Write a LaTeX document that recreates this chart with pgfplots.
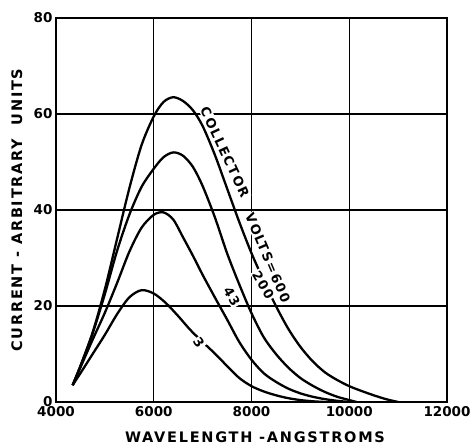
\documentclass[border=0pt]{standalone}
\usepackage{fontspec}
\setmainfont{DejaVu Sans}
\newfontfamily\tk{DejaVu Sans Bold}
\newfontfamily\lab{DejaVu Sans Bold}[LetterSpace=12]
\usepackage{pgfplots}
\pgfplotsset{compat=1.18}
\pgfplotsset{curve/.style={black, line width=2.3pt, smooth, tension=0.5, mark=none}}
\begin{document}
\begin{tikzpicture}
\path[use as bounding box] (-56pt,-45pt) rectangle (416pt,402pt);
\begin{axis}[
  scale only axis, width=391pt, height=384pt,
  at={(0,0)}, anchor=south west,
  xmin=4000, xmax=12000, ymin=0, ymax=80,
  xtick={4000,6000,8000,10000,12000}, ytick={0,20,40,60,80},
  grid=major, major grid style={black, line width=1.2pt},
  axis line style={line width=1.6pt},
  major tick length=0pt,
  tick label style={font=\fontsize{13.5}{14}\tk},
  xticklabel style={yshift=-1pt},
  /pgf/number format/assume math mode=true,
  /pgf/number format/1000 sep={},
  scaled x ticks=false,
  xlabel={WAVELENGTH -ANGSTROMS},
  ylabel={CURRENT - ARBITRARY\ \ UNITS},
  label style={font=\fontsize{14.5}{15}\lab},
  xlabel style={at={(axis description cs:0.509,-0.091)}, anchor=center},
  ylabel style={at={(axis description cs:-0.1,0.5)}, anchor=center},
]
% 600 V
\addplot[curve] coordinates {(4340,3.5) (4500,7.5) (4750,14.5) (5000,23.5) (5250,34) (5500,44.5) (5750,53.5) (6000,59.5) (6200,62.5) (6400,63.5) (6600,62.7) (6800,60.8) (7000,57.5) (7250,51.5) (7500,44.5) (7750,37.5) (8000,31) (8250,25.3) (8500,20) (8750,15.3) (9000,11.5) (9250,8.5) (9500,6.2) (9750,4.6) (10000,3.3) (10250,2.3) (10500,1.4) (10750,0.6) (11000,0)};
% 200 V
\addplot[curve] coordinates {(4340,3.5) (4500,7.5) (4750,14.3) (5000,22.5) (5250,31.5) (5500,39) (5750,44.8) (6000,48.6) (6200,51) (6400,52) (6600,51.3) (6800,49) (7000,45) (7250,38.5) (7500,31) (7750,24.5) (8000,18.5) (8250,13.5) (8500,10) (8750,7.2) (9000,5) (9250,3.4) (9500,2.1) (9750,1.1) (10000,0.4) (10150,0)};
% 43 V
\addplot[curve] coordinates {(4340,3.5) (4500,7.2) (4750,13) (5000,18.6) (5250,24.8) (5500,31.3) (5750,36.3) (6000,39) (6200,39.5) (6400,38) (6600,34.3) (6800,30.5) (7000,26.5) (7250,21.8) (7500,17.2) (7750,12.5) (8000,8.8) (8250,6) (8500,4.2) (8750,2.8) (9000,1.8) (9250,1.1) (9500,0.6) (9750,0.25) (10000,0)};
% 3 V
\addplot[curve] coordinates {(4340,3.5) (4500,6) (4750,10) (5000,14) (5250,18.3) (5500,21.8) (5750,23.3) (6000,22.6) (6250,20.6) (6500,17.9) (6750,15) (7000,12.5) (7250,10.1) (7500,7.5) (7750,5) (8000,3.3) (8250,2.2) (8500,1.4) (8750,0.8) (9000,0.4) (9250,0.15) (9500,0)};
\node[rotate=-65, fill=white, inner sep=1pt, font=\fontsize{13}{14}\lab] at (axis cs:7456,52) {COLLECTOR};
\node[rotate=-67, fill=white, inner sep=1pt, font=\fontsize{13}{14}\lab] at (axis cs:8335,30) {VOLTS=600};
\node[rotate=-60, fill=white, inner sep=1pt, font=\fontsize{13}{14}\lab] at (axis cs:8240,24.4) {200};
\node[rotate=-60, fill=white, inner sep=1pt, font=\fontsize{13}{14}\lab] at (axis cs:7600,22) {43};
\node[rotate=-55, fill=white, inner sep=1pt, font=\fontsize{13}{14}\lab] at (axis cs:6924,12.3) {3};
\end{axis}
\end{tikzpicture}
\end{document}
